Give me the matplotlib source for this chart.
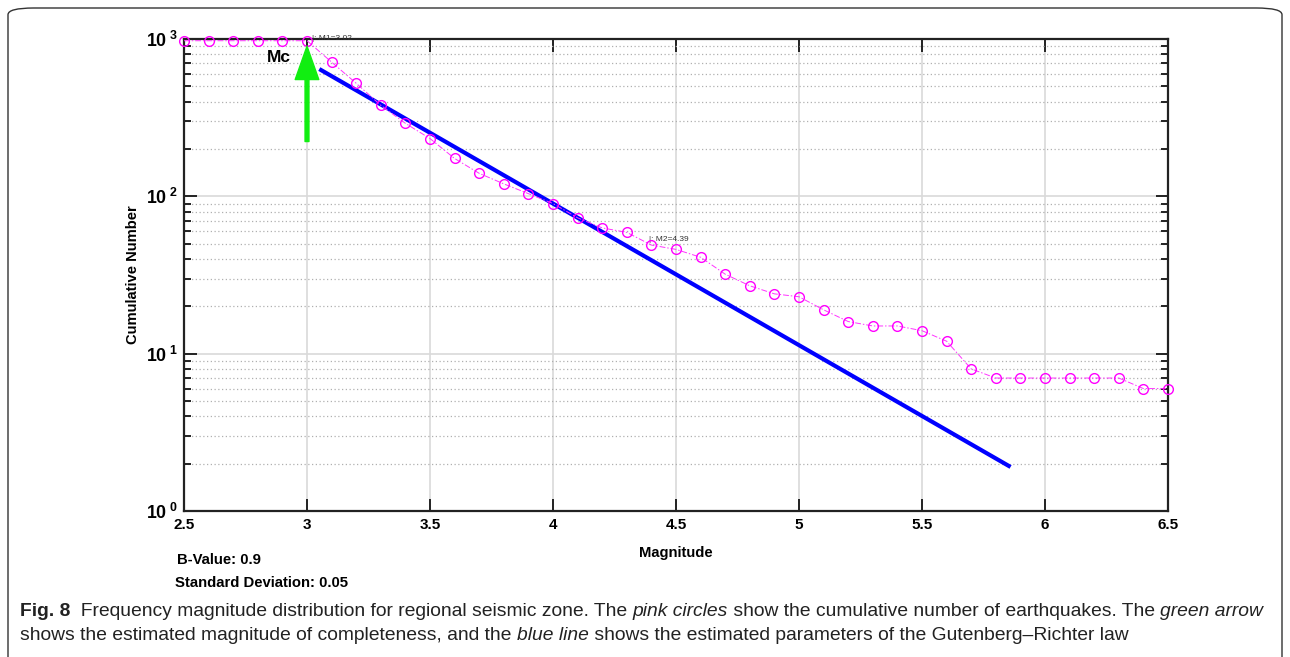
import numpy as np
import matplotlib
matplotlib.use("Agg")
import matplotlib.pyplot as plt
from matplotlib.ticker import FixedLocator, FuncFormatter, LogLocator, NullFormatter
from matplotlib.patches import FancyBboxPatch

## Data
magnitude = np.round(np.arange(2.5, 6.51, 0.1), 1)
cum_number = [975, 975, 975, 975, 975, 975, 713, 523, 379, 291,
              233, 174, 140, 120, 104, 90, 73, 63, 59, 49,
              46, 41, 32, 27, 24, 23, 19, 16, 15, 15,
              14, 12, 8, 7, 7, 7, 7, 7, 7, 6, 6]
b_value = 0.9
a_value = 5.554
fit_range = [3.05, 5.86]
mc = 3.0
arrow_from = 223
arrow_to = 900
m1_label = "|: M1=3.02"
m1_pos = (3.02, 1000)
m2_label = "|: M2=4.39"
m2_pos = (4.39, 53)
x_ticks = [2.5, 3, 3.5, 4, 4.5, 5, 5.5, 6, 6.5]
y_decades = [1, 10, 100, 1000]

plt.rcParams["mathtext.fontset"] = "custom"
plt.rcParams["mathtext.bf"] = "Liberation Sans:bold"
plt.rcParams["mathtext.rm"] = "Liberation Sans"
bold = dict(family=["Liberation Sans", "DejaVu Sans"], fontweight="bold")

fig = plt.figure(figsize=(12.9, 6.57), dpi=100)
ax = fig.add_axes([184/1290, 1 - 511/657, 984/1290, 472/657])

# Gutenberg-Richter fit line
fit_m = np.array(fit_range)
fit_n = 10 ** (a_value - b_value * fit_m)
ax.plot(fit_m, fit_n, color="#0000ff", lw=3.0, solid_capstyle="butt", zorder=3)

# cumulative counts
ax.plot(magnitude, cum_number, color="#ff33ff", ls=(0, (6, 2, 1.5, 2)), lw=0.7,
        marker="o", ms=7, mfc="none", mec="#ff00ff", mew=1.0, zorder=4,
        clip_on=False)

# magnitude of completeness arrow
ax.annotate("", xy=(mc, arrow_to), xytext=(mc, arrow_from),
            arrowprops=dict(width=2.8, headwidth=17, headlength=24,
                            color="#11ee11", shrink=0), zorder=5)
ax.text(2.885, 760, "Mc", fontsize=12.5, ha="center", va="center", **bold)
ax.text(m1_pos[0], m1_pos[1], m1_label, fontsize=6, ha="left", va="center",
        color="#333333", family="Liberation Sans")
ax.text(m2_pos[0], m2_pos[1], m2_label, fontsize=6, ha="left", va="center",
        color="#333333", family="Liberation Sans")

ax.set_yscale("log")
ax.set_xlim(2.5, 6.5)
ax.set_ylim(1, 1000)
ax.xaxis.set_major_locator(FixedLocator(x_ticks))
ax.xaxis.set_major_formatter(FuncFormatter(lambda v, p: f"{v:g}"))
ax.yaxis.set_major_locator(FixedLocator(y_decades))
ax.yaxis.set_major_formatter(FuncFormatter(
    lambda v, p: r"$\mathbf{10^{\ %d}}$" % round(np.log10(v))))
ax.yaxis.set_minor_locator(LogLocator(base=10, subs=np.arange(2, 10)))
ax.yaxis.set_minor_formatter(NullFormatter())

ax.grid(True, which="major", color="#d9d9d9", lw=1.2, ls="-")
ax.grid(True, which="minor", axis="y", color="#b0b0b0", lw=0.9, ls=(0, (1, 2)))
ax.set_axisbelow(True)

ax.tick_params(which="both", direction="in", top=True, right=True, width=1.4,
               color="#222222")
ax.tick_params(axis="x", labelsize=11)
ax.tick_params(axis="y", labelsize=12.8, pad=4)
ax.tick_params(which="major", length=9)
ax.tick_params(axis="x", which="major", pad=5)
ax.tick_params(which="minor", length=5)
for lab in ax.get_xticklabels() + ax.get_yticklabels():
    lab.set_fontweight("bold")
    lab.set_family(["Liberation Sans", "DejaVu Sans"])
for s in ax.spines.values():
    s.set_linewidth(1.6)
    s.set_color("#222222")

ax.set_xlabel("Magnitude", fontsize=10.6, labelpad=10, **bold)
ax.set_ylabel("Cumulative Number", fontsize=10.6, labelpad=4, **bold)

fig.text(177/1290, 1 - 560/657, "B-Value: 0.9", fontsize=10.7, va="center", **bold)
fig.text(175/1290, 1 - 583/657, "Standard Deviation: 0.05", fontsize=10.7,
         va="center", **bold)

# frame round the figure panel
frame = FancyBboxPatch((8/1290, -0.05), 1274/1290, 1 - 8/657 + 0.05,
                       boxstyle="round,pad=0,rounding_size=0.02",
                       transform=fig.transFigure, fill=False, ec="#333333",
                       lw=1.0, mutation_aspect=657/1290)
fig.patches.append(frame)

# caption written piece by piece
cap_font = ["Liberation Sans Narrow", "Liberation Sans", "DejaVu Sans"]
caption = [
    [("Fig. 8", "bold", "normal"),
     ("  Frequency magnitude distribution for regional seismic zone. The ", "normal", "normal"),
     ("pink circles", "normal", "italic"),
     (" show the cumulative number of earthquakes. The ", "normal", "normal"),
     ("green arrow", "normal", "italic")],
    [("shows the estimated magnitude of completeness, and the ", "normal", "normal"),
     ("blue line", "normal", "italic"),
     (" shows the estimated parameters of the Gutenberg\u2013Richter law", "normal", "normal")],
]
fig.canvas.draw()
renderer = fig.canvas.get_renderer()
for i, line in enumerate(caption):
    x = 20
    y = 1 - (612 + 24 * i) / 657
    for txt, weight, style in line:
        t = fig.text(x/1290, y, txt, fontsize=13.85, fontweight=weight,
                     fontstyle=style, family=cap_font, va="center", ha="left",
                     color="#222222")
        x += t.get_window_extent(renderer).width

fig.savefig("out.png", dpi=100)
